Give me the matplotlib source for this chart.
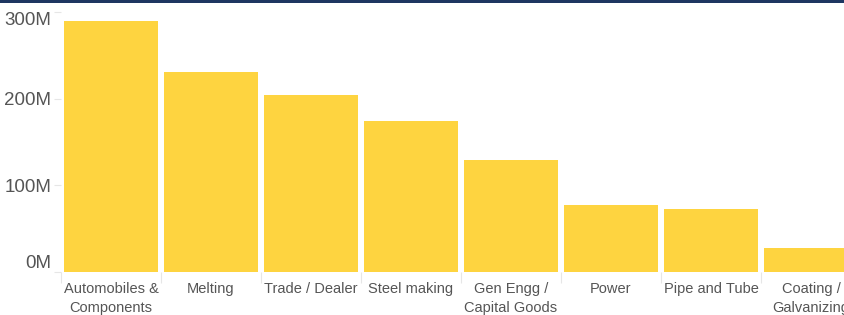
import matplotlib
matplotlib.use("Agg")
import matplotlib.pyplot as plt
from matplotlib.patches import Rectangle
import numpy as np

categories = ["Automobiles &\nComponents", "Melting", "Trade / Dealer", "Steel making",
              "Gen Engg /\nCapital Goods", "Power", "Pipe and Tube", "Coating /\nGalvanizing"]
values_m = [289.5, 230.5, 203.8, 174.5, 129.0, 77.3, 72.3, 28.0]
ytick_vals = [0, 100, 200, 300]
ytick_labels = ["0M", "100M", "200M", "300M"]

plt.rcParams['font.family'] = ['Liberation Sans', 'DejaVu Sans']
W, H = 845, 315
fig = plt.figure(figsize=(W / 100, H / 100), dpi=100)

# axes: x from 61px to 861px (last slot clipped), y baseline at 272px, 300M at 12px
left, right = 61, 861
bottom_px, top_px = 272, 12
ax = fig.add_axes([left / W, (H - bottom_px) / H, (right - left) / W, (bottom_px - top_px) / H])

x = np.arange(len(categories))
ax.bar(x, values_m, width=0.94, color="#FED440", edgecolor="none")
ax.set_xlim(-0.5, len(categories) - 0.5)
ax.set_ylim(0, 300)

for s in ax.spines.values():
    s.set_visible(False)

ax.set_yticks(ytick_vals)
ax.set_yticklabels(ytick_labels)
ax.tick_params(axis='y', length=5, width=0.8, color="#E6E6E6", labelsize=13.5,
               labelcolor="#555555", pad=2)
ylabels = ax.get_yticklabels()
ylabels[0].set_va('bottom')
ylabels[-1].set_va('top')

# x labels centered in slots, ticks at slot boundaries
ax.set_xticks(x)
ax.set_xticklabels(categories, fontsize=10.5, color="#555555", linespacing=1.45)
ax.tick_params(axis='x', length=0, pad=7)
ax.set_xticks(np.arange(len(categories) + 1) - 0.5, minor=True)
ax.tick_params(axis='x', which='minor', length=8, width=0.8, color="#E6E6E6")

# navy header strip at top
fig.patches.append(Rectangle((0, 1 - 3 / H), 1, 3 / H, transform=fig.transFigure,
                             facecolor="#1E3661", edgecolor="none"))

fig.savefig("out.png", dpi=100)
